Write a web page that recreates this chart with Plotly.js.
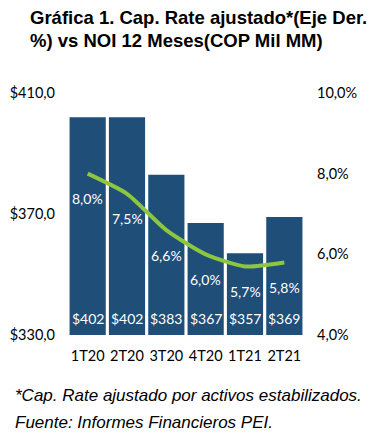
<!DOCTYPE html>
<html><head><meta charset="utf-8">
<script src="https://cdn.plot.ly/plotly-3.0.1.min.js"></script>
<style>html,body{margin:0;padding:0;background:#fff}#c{width:373px;height:438px}</style>
</head><body><div id="c"></div>
<script>
const categories = ['1T20','2T20','3T20','4T20','1T21','2T21'];
const noi = [402, 402, 383, 367, 357, 369];
const noiLabels = ['$402','$402','$383','$367','$357','$369'];
const capRate = [0.080, 0.075, 0.066, 0.060, 0.057, 0.058];
const capRateLabels = ['8,0%','7,5%','6,6%','6,0%','5,7%','5,8%'];
const leftRange = [330, 410];
const rightRange = [0.04, 0.10];

const labelFont = {family: 'Lato, "Open Sans", sans-serif', size: 14, color: '#ffffff'};
const titleFont = {family:'"Liberation Sans", Arial, sans-serif', size:18.5, color:'#000'};
const noteFont = {family:'"Liberation Sans", Arial, sans-serif', size:17, color:'#000'};

const traces = [
  {type:'bar', x:categories, y:noi, marker:{color:'#1F4E79', line:{width:0}},
   hoverinfo:'none'},
  {type:'scatter', mode:'lines', x:categories, y:capRate, yaxis:'y2',
   line:{color:'#8DC63F', width:4, shape:'spline', smoothing:0.6}, hoverinfo:'none'}
];

const annotations = [];
categories.forEach((c,i)=>{
  annotations.push({x:c, y:capRate[i], xref:'x', yref:'y2', text:capRateLabels[i],
    showarrow:false, yshift:-25, font:labelFont});
  annotations.push({x:c, y:leftRange[0], xref:'x', yref:'y', text:noiLabels[i],
    showarrow:false, yanchor:'bottom', yshift:6, font:labelFont});
});
annotations.push(
  {xref:'paper', yref:'paper', x:-0.169, y:1.314, xanchor:'left', yanchor:'middle', showarrow:false,
   text:'<b>Gráfica 1. Cap. Rate ajustado*(Eje Der.</b>', font:titleFont},
  {xref:'paper', yref:'paper', x:-0.169, y:1.219, xanchor:'left', yanchor:'middle', showarrow:false,
   text:'<b>%) vs NOI 12 Meses(COP Mil MM)</b>', font:titleFont},
  {xref:'paper', yref:'paper', x:-0.233, y:-0.252, xanchor:'left', yanchor:'middle', showarrow:false,
   text:'<i>*Cap. Rate ajustado por activos estabilizados.</i>', font:noteFont},
  {xref:'paper', yref:'paper', x:-0.233, y:-0.36, xanchor:'left', yanchor:'middle', showarrow:false,
   text:'<i>Fuente: Informes Financieros PEI.</i>', font:noteFont}
);

const tickFont = {family:'Lato, "Open Sans", sans-serif', size:14.5, color:'#000'};

const layout = {
  width:373, height:438,
  margin:{l:68, r:69, t:93, b:103},
  paper_bgcolor:'#fff', plot_bgcolor:'#fff',
  separators:',.',
  showlegend:false,
  bargap:0.08,
  xaxis:{type:'category', showgrid:false, zeroline:false, showline:false, ticks:'',
    tickfont:tickFont, ticklabelstandoff:10},
  yaxis:{range:leftRange, dtick:40, tick0:330, tickprefix:'$', tickformat:'.1f',
    showgrid:false, zeroline:false, showline:false, ticks:'', tickfont:tickFont, ticklabelstandoff:12},
  yaxis2:{range:rightRange, dtick:0.02, tick0:0.04, tickformat:'.1%', overlaying:'y', side:'right',
    showgrid:false, zeroline:false, showline:false, ticks:'', tickfont:tickFont, ticklabelstandoff:12},
  annotations:annotations
};

Plotly.newPlot('c', traces, layout, {displayModeBar:false, staticPlot:true});
</script></body></html>
